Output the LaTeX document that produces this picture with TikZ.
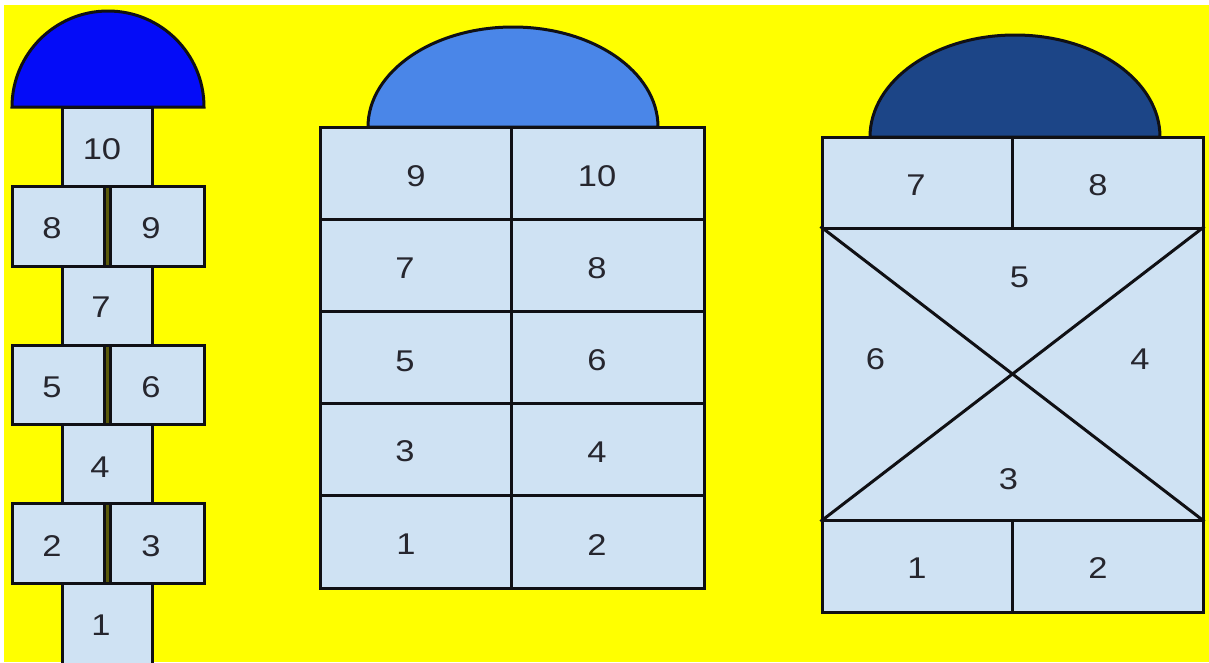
\documentclass[tikz,border=0pt]{standalone}
\usepackage{fontspec}
\usepackage{xcolor}
\usepackage{tikz}
\newfontfamily\numfont[FakeStretch=1.15]{Liberation Sans}
\definecolor{GroundYellow}{RGB}{255,255,0}
\definecolor{TileBlue}{RGB}{207,226,243}
\definecolor{TileLine}{RGB}{16,16,20}
\definecolor{NumGray}{RGB}{38,38,46}
\definecolor{GapOlive}{RGB}{90,90,10}
\definecolor{CapBlue}{RGB}{4,12,248}
\definecolor{CapCorn}{RGB}{74,134,232}
\definecolor{CapDark}{RGB}{28,69,135}

\begin{document}
\begin{tikzpicture}[
  x=1pt, y=-1pt,
  tile/.style={
    draw=TileLine,
    line width=3pt,
    fill=TileBlue,
    inner sep=0pt,
  },
  rim/.style={draw=TileLine, line width=3pt},
  gap/.style={fill=GapOlive},
  num/.style={font=\numfont\fontsize{30}{34}\selectfont, text=NumGray, inner sep=0pt},
]
  \useasboundingbox (0,0) rectangle (1209,662);
  \fill[white] (0,0) rectangle (1209,662);
  \fill[GroundYellow] (4,5) rectangle (1209,662);

  % left: single and double hops
  \draw[rim, fill=CapBlue] (12,107) arc[start angle=180, end angle=360, radius=96] -- cycle;
  \fill[gap] (103,186) rectangle (111,266);
  \fill[gap] (103,345) rectangle (111,424);
  \fill[gap] (103,503) rectangle (111,583);

  \node[tile, minimum width=90pt, minimum height=79pt] (a10) at (107,146.5) {};
  \node[tile, minimum width=92pt, minimum height=80pt] (a8) at (58,226) {};
  \node[tile, minimum width=94pt, minimum height=80pt] (a9) at (157,226) {};
  \node[tile, minimum width=90pt, minimum height=79pt] (a7) at (107,305.5) {};
  \node[tile, minimum width=92pt, minimum height=79pt] (a5) at (58,384.5) {};
  \node[tile, minimum width=94pt, minimum height=79pt] (a6) at (157,384.5) {};
  \node[tile, minimum width=90pt, minimum height=79pt] (a4) at (107,463.5) {};
  \node[tile, minimum width=92pt, minimum height=80pt] (a2) at (58,543) {};
  \node[tile, minimum width=94pt, minimum height=80pt] (a3) at (157,543) {};
  \node[tile, minimum width=90pt, minimum height=87pt] (a1) at (107,626.5) {};

  \node[num] (na10) at (102,149) {10};
  \node[num] (na8) at (52,228) {8};
  \node[num] (na9) at (151,228) {9};
  \node[num] (na7) at (101,307.5) {7};
  \node[num] (na5) at (52,387) {5};
  \node[num] (na6) at (151,387) {6};
  \node[num] (na4) at (100,467) {4};
  \node[num] (na2) at (52,546) {2};
  \node[num] (na3) at (151,546) {3};
  \node[num] (na1) at (101,625) {1};

  % middle: two columns
  \draw[rim, fill=CapCorn] (368,127) arc[start angle=180, end angle=360, x radius=145, y radius=100] -- cycle;
  \foreach \l/\r [count=\i from 0] in {9/10,7/8,5/6,3/4,1/2} {
    \node[tile, minimum width=191pt, minimum height=92.2pt] (m\l) at (415.5,173.1+92.2*\i) {};
    \node[tile, minimum width=193pt, minimum height=92.2pt] (m\r) at (607.5,173.1+92.2*\i) {};
    \node[num] (nm\r) at (597,176+92.2*\i) {\r};
  }
  \node[num] (nm9) at (416,176) {9};
  \node[num] (nm7) at (405,268) {7};
  \node[num] (nm5) at (405,361) {5};
  \node[num] (nm3) at (405,451) {3};
  \node[num] (nm1) at (406,544) {1};

  % right: cross box
  \draw[rim, fill=CapDark] (870,137) arc[start angle=180, end angle=360, x radius=145, y radius=102] -- cycle;
  \node[tile, minimum width=190pt, minimum height=91pt] (r7) at (917,182.5) {};
  \node[tile, minimum width=191pt, minimum height=91pt] (r8) at (1107.5,182.5) {};
  \node[tile, minimum width=381pt, minimum height=292pt] (rx) at (1012.5,374) {};
  \node[tile, minimum width=190pt, minimum height=92pt] (r1) at (917,566) {};
  \node[tile, minimum width=191pt, minimum height=92pt] (r2) at (1107.5,566) {};
  \draw[rim] (rx.north west) -- (rx.south east);
  \draw[rim] (rx.south west) -- (rx.north east);

  \node[num] (nr7) at (916,185) {7};
  \node[num] (nr8) at (1098,185) {8};
  \node[num] (nr5) at (1019.5,277.5) {5};
  \node[num] (nr6) at (875.5,359) {6};
  \node[num] (nr4) at (1140,359) {4};
  \node[num] (nr3) at (1008.5,479) {3};
  \node[num] (nr1) at (917,568.5) {1};
  \node[num] (nr2) at (1098,568.5) {2};
\end{tikzpicture}
\end{document}
